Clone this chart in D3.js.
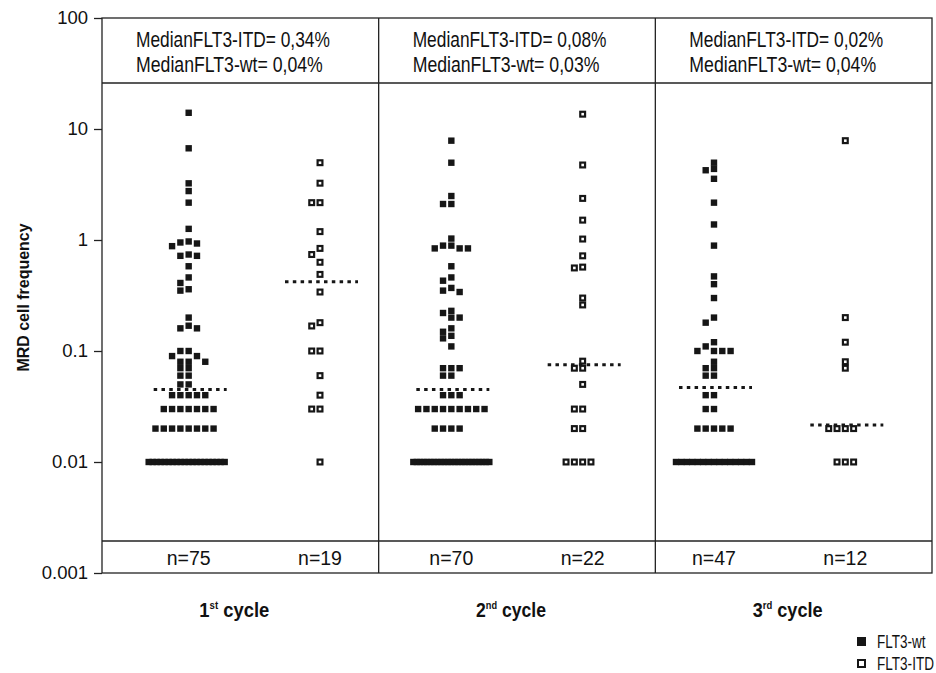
<!DOCTYPE html>
<html>
<head>
<meta charset="utf-8">
<script src="https://cdn.jsdelivr.net/npm/d3@7"></script>
<style>
  body { margin: 0; background: #fff; }
  svg text { font-family: "Liberation Sans", Arial, sans-serif; fill: #111; }
</style>
</head>
<body>
<div id="chart"></div>
<script>
// values
const cycles = ["1st", "2nd", "3rd"];
const groups = ["FLT3-wt", "FLT3-ITD"];
const medianITDText = ["0,34%", "0,08%", "0,02%"];
const medianWtText = ["0,04%", "0,03%", "0,04%"];
const nLabels = [75, 19, 70, 22, 47, 12];
const medianLines = [0.045, 0.42, 0.045, 0.075, 0.047, 0.0215];
const yTicks = [0.001, 0.01, 0.1, 1, 10, 100];
const yTickLabels = ["0.001", "0.01", "0.1", "1", "10", "100"];

// [value, how many patients at that value]
const wt1 = [[14,1],[6.7,1],[3.24,1],[2.76,1],[2.17,1],[1.26,1],[0.97,1],[0.95,1],[0.93,1],[0.88,1],[0.74,1],[0.72,2],[0.58,1],[0.46,1],[0.41,1],[0.36,1],[0.35,1],[0.2,1],[0.169,1],[0.16,2],[0.1,2],[0.09,2],[0.08,3],[0.07,2],[0.06,2],[0.05,2],[0.04,5],[0.03,7],[0.02,8],[0.01,20]];
const itd1 = [[4.97,1],[3.25,1],[2.17,2],[1.19,1],[0.84,1],[0.74,1],[0.63,1],[0.49,1],[0.34,1],[0.18,1],[0.168,1],[0.1,2],[0.06,1],[0.04,1],[0.03,2],[0.01,1]];
const wt2 = [[7.85,1],[4.97,1],[2.49,1],[2.11,2],[1.03,1],[0.89,2],[0.84,3],[0.58,1],[0.46,1],[0.43,1],[0.37,1],[0.35,1],[0.34,1],[0.23,1],[0.22,1],[0.2,2],[0.16,1],[0.149,1],[0.137,1],[0.13,1],[0.11,1],[0.07,3],[0.06,2],[0.04,3],[0.03,9],[0.02,4],[0.01,23]];
const itd2 = [[13.6,1],[4.74,1],[2.37,1],[1.51,1],[1.02,1],[0.72,1],[0.57,1],[0.56,1],[0.3,1],[0.26,1],[0.081,1],[0.07,2],[0.05,1],[0.03,2],[0.02,2],[0.01,4]];
const wt3 = [[4.97,1],[4.37,1],[4.25,1],[3.56,1],[2.17,1],[1.38,1],[0.89,1],[0.47,1],[0.4,1],[0.3,1],[0.2,1],[0.18,1],[0.12,1],[0.11,1],[0.1,4],[0.08,1],[0.07,2],[0.06,2],[0.04,2],[0.03,2],[0.02,5],[0.01,15]];
const itd3 = [[7.85,1],[0.2,1],[0.12,1],[0.08,1],[0.07,1],[0.02,4],[0.01,3]];

const series = [wt1, itd1, wt2, itd2, wt3, itd3];

const width = 936, height = 673;
const plotLeft = 102, plotRight = 932, plotTop = 18, plotBottom = 573;
const headerLine = 83, nLine = 541;
const step = 8.3, maxSpan = 76;

const svg = d3.select("#chart").append("svg")
	.attr("width", width)
	.attr("height", height);

const y = d3.scaleLog().domain([0.001, 100]).range([plotBottom, plotTop]);

const panel = d3.scaleBand().domain(cycles).range([plotLeft, plotRight]);

const columnKeys = [];
cycles.forEach(c => groups.forEach(g => columnKeys.push(c + "|" + g)));
const x = d3.scalePoint().domain(columnKeys).range([plotLeft, plotRight]).padding(0.66);

// the original uses a condensed face, so squeeze text horizontally to a target width
function condense(sel, targetWidth)
{
	const w = sel.node().getBBox().width;
	const ax = +sel.attr("x"), ay = +sel.attr("y");
	const k = targetWidth / w;
	sel.attr("transform", `translate(${ax},${ay}) scale(${k},1) translate(${-ax},${-ay})`);
}

// simple swarm: equal values sit in a row, neighbours get pushed sideways
function swarm(pairs)
{
	const placed = [];
	pairs.slice().sort((a, b) => b[0] - a[0]).forEach(([v, count]) =>
	{
		const s = count > 10 ? Math.min(step, maxSpan / (count - 1)) : step;
		const yy = y(v);
		const mine = [];
		for (let k = 0; mine.length < count && k < 200; k++)
		{
			const off = (k % 2 ? -(k + 1) / 2 : k / 2) * s;
			const hit = placed.some(p => Math.abs(p.dx - off) < step * 0.8 && Math.abs(p.y - yy) < 6.2);
			if (!hit) mine.push({ v: v, dx: off, y: yy });
		}
		placed.push(...mine);
	});
	return placed;
}

// frame
svg.append("rect")
	.attr("x", plotLeft).attr("y", plotTop)
	.attr("width", plotRight - plotLeft).attr("height", plotBottom - plotTop)
	.attr("fill", "none").attr("stroke", "#222").attr("stroke-width", 1.3);

cycles.slice(1).forEach(c =>
{
	svg.append("line")
		.attr("x1", panel(c)).attr("x2", panel(c))
		.attr("y1", plotTop).attr("y2", plotBottom)
		.attr("stroke", "#222").attr("stroke-width", 1.3);
});

[headerLine, nLine].forEach(yy =>
{
	svg.append("line")
		.attr("x1", plotLeft).attr("x2", plotRight)
		.attr("y1", yy).attr("y2", yy)
		.attr("stroke", "#222").attr("stroke-width", 1.3);
});

// y axis
const yAxis = svg.append("g")
	.attr("transform", `translate(${plotLeft},0)`)
	.call(d3.axisLeft(y).tickValues(yTicks).tickFormat((d, i) => yTickLabels[i]).tickSize(8).tickPadding(6));
yAxis.select(".domain").remove();
yAxis.selectAll(".tick line").attr("stroke", "#222").attr("stroke-width", 1.3);
yAxis.selectAll(".tick text")
	.style("font-family", '"Liberation Sans", Arial, sans-serif')
	.style("font-size", "18.5px")
	.attr("fill", "#111");

svg.append("text")
	.attr("transform", `translate(29,${(plotTop + plotBottom) / 2 + 2}) rotate(-90)`)
	.attr("text-anchor", "middle")
	.style("font-size", "16px")
	.style("font-weight", "bold")
	.attr("textLength", 148)
	.attr("lengthAdjust", "spacingAndGlyphs")
	.text("MRD cell frequency");

// header medians and cycle labels
cycles.forEach((c, i) =>
{
	const h1 = svg.append("text")
		.attr("x", panel(c) + 34).attr("y", 47)
		.style("font-size", "22.5px")
		.text("MedianFLT3-ITD= " + medianITDText[i]);
	condense(h1, 194);
	const h2 = svg.append("text")
		.attr("x", panel(c) + 34).attr("y", 72.5)
		.style("font-size", "22.5px")
		.text("MedianFLT3-wt= " + medianWtText[i]);
	condense(h2, 187);

	const t = svg.append("text")
		.attr("x", panel(c) + panel.bandwidth() / 2 - 6).attr("y", 617)
		.attr("text-anchor", "middle")
		.style("font-size", "21px")
		.style("font-weight", "bold");
	t.append("tspan").text(c.slice(0, 1));
	t.append("tspan").attr("dy", -8).style("font-size", "11px").text(c.slice(1));
	t.append("tspan").attr("dy", 8).text(" cycle");
	condense(t, 70);
});

// points, medians, n labels
columnKeys.forEach((key, i) =>
{
	const cx = x(key);
	const isWt = key.endsWith("FLT3-wt");
	const pts = swarm(series[i]);
	const g = svg.append("g");

	if (isWt)
	{
		g.selectAll("rect").data(pts).enter().append("rect")
			.attr("x", d => cx + d.dx - 3.2).attr("y", d => d.y - 3.2)
			.attr("width", 6.4).attr("height", 6.4)
			.attr("fill", "#161616");
	}
	else
	{
		g.selectAll("rect").data(pts).enter().append("rect")
			.attr("x", d => cx + d.dx - 2.4).attr("y", d => d.y - 2.4)
			.attr("width", 4.8).attr("height", 4.8)
			.attr("fill", "#fff").attr("stroke", "#161616").attr("stroke-width", 2.2);
	}

	svg.append("line")
		.attr("x1", cx - 35).attr("x2", cx + 38)
		.attr("y1", y(medianLines[i])).attr("y2", y(medianLines[i]))
		.attr("stroke", "#161616").attr("stroke-width", 3)
		.attr("stroke-dasharray", "3.5 4.3");

	svg.append("text")
		.attr("x", cx).attr("y", 564.5)
		.attr("text-anchor", "middle")
		.style("font-size", "19.5px")
		.text("n=" + nLabels[i]);
});

// legend
const legend = svg.append("g");
groups.forEach((gName, i) =>
{
	const ly = 641.5 + i * 22;
	if (i === 0)
	{
		legend.append("rect").attr("x", 857).attr("y", ly - 4.5).attr("width", 9).attr("height", 9).attr("fill", "#161616");
	}
	else
	{
		legend.append("rect").attr("x", 858).attr("y", ly - 3.5).attr("width", 7).attr("height", 7)
			.attr("fill", "#fff").attr("stroke", "#161616").attr("stroke-width", 2);
	}
	const lt = legend.append("text")
		.attr("x", 877).attr("y", ly + 6.5)
		.style("font-size", "19px")
		.text(gName);
	condense(lt, i === 0 ? 49 : 57);
});
</script>
</body>
</html>
